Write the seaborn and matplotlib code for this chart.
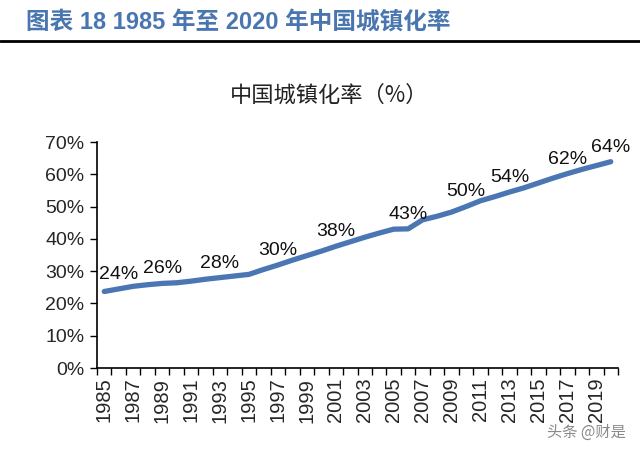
import matplotlib
matplotlib.use("Agg")
import matplotlib.pyplot as plt
import seaborn as sns
import pandas as pd
from matplotlib.ticker import FuncFormatter
from matplotlib.lines import Line2D

# data
years = list(range(1985, 2021))
rate = [23.7, 24.5, 25.3, 25.8, 26.2, 26.4, 26.9, 27.5, 28.0, 28.5,
        29.0, 30.5, 31.9, 33.4, 34.8, 36.2, 37.7, 39.1, 40.5, 41.8,
        43.0, 43.1, 45.9, 47.0, 48.3, 50.0, 51.8, 53.1, 54.5, 55.8,
        57.3, 58.8, 60.2, 61.5, 62.7, 63.9]
label_years = [1986, 1989, 1993, 1997, 2001, 2006, 2010, 2013, 2017, 2020]
label_texts = ['24%', '26%', '28%', '30%', '38%', '43%', '50%', '54%', '62%', '64%']
tick_years = list(range(1985, 2021, 2))
y_ticks = [0, 10, 20, 30, 40, 50, 60, 70]

header = '图表 18 1985 年至 2020 年中国城镇化率'
chart_title = '中国城镇化率（%）'
watermark = '头条 @财是'

df = pd.DataFrame({'year': years, 'rate': rate})

sns.set_style('white')
plt.rcParams['font.family'] = ['Liberation Sans', 'Noto Sans CJK SC', 'DejaVu Sans']

fig = plt.figure(figsize=(6.4, 4.55), dpi=100)
ax = fig.add_axes([0.1516, 0.1912, 0.8140, 0.4967])

line_color = '#4a77b4'
sns.lineplot(data=df, x='year', y='rate', ax=ax, color=line_color,
             linewidth=3.8, solid_capstyle='round')

for yr, txt in zip(label_years, label_texts):
    val = rate[years.index(yr)]
    ax.annotate(txt, (yr, val), xytext=(0, 10.5), textcoords='offset points',
                ha='center', va='center', fontsize=14, color='#111111')

ax.set_xlim(years[0] - 0.5, years[-1] + 0.5)
ax.set_ylim(0, 70)
ax.set_yticks(y_ticks)
ax.yaxis.set_major_formatter(FuncFormatter(lambda v, p: f'{v:.0f}%'))

ax.set_xticks(tick_years)
ax.set_xticklabels([str(y) for y in tick_years], rotation=90)
ax.set_xticks([y - 0.5 for y in years] + [years[-1] + 0.5], minor=True)
ax.tick_params(axis='x', which='major', length=0, pad=7, labelsize=14.5)
ax.tick_params(axis='x', which='minor', length=5, width=1, color='black', direction='out', bottom=True)
ax.tick_params(axis='y', which='major', length=5, width=1, color='black', direction='out',
               left=True, labelsize=14, pad=4)

ax.set_xlabel('')
ax.set_ylabel('')
for side in ['top', 'right']:
    ax.spines[side].set_visible(False)
for side in ['left', 'bottom']:
    ax.spines[side].set_color('black')
    ax.spines[side].set_linewidth(1.2)

fig.text(0.040, 0.952, header, fontsize=17, fontweight='bold', color='#4a76b0',
         ha='left', va='center', family=['Liberation Sans', 'Noto Sans CJK SC', 'DejaVu Sans'])
fig.add_artist(Line2D([0, 1], [0.910, 0.910], color='black', linewidth=2,
                      transform=fig.transFigure))
fig.text(0.514, 0.790, chart_title, fontsize=16, color='#222222',
         ha='center', va='center', family=['Noto Sans CJK SC', 'DejaVu Sans'])
fig.text(0.978, 0.05, watermark, fontsize=11, color='#8a8a8a',
         ha='right', va='center', family=['Noto Sans CJK SC', 'DejaVu Sans'])

fig.savefig('out.png', dpi=100)
